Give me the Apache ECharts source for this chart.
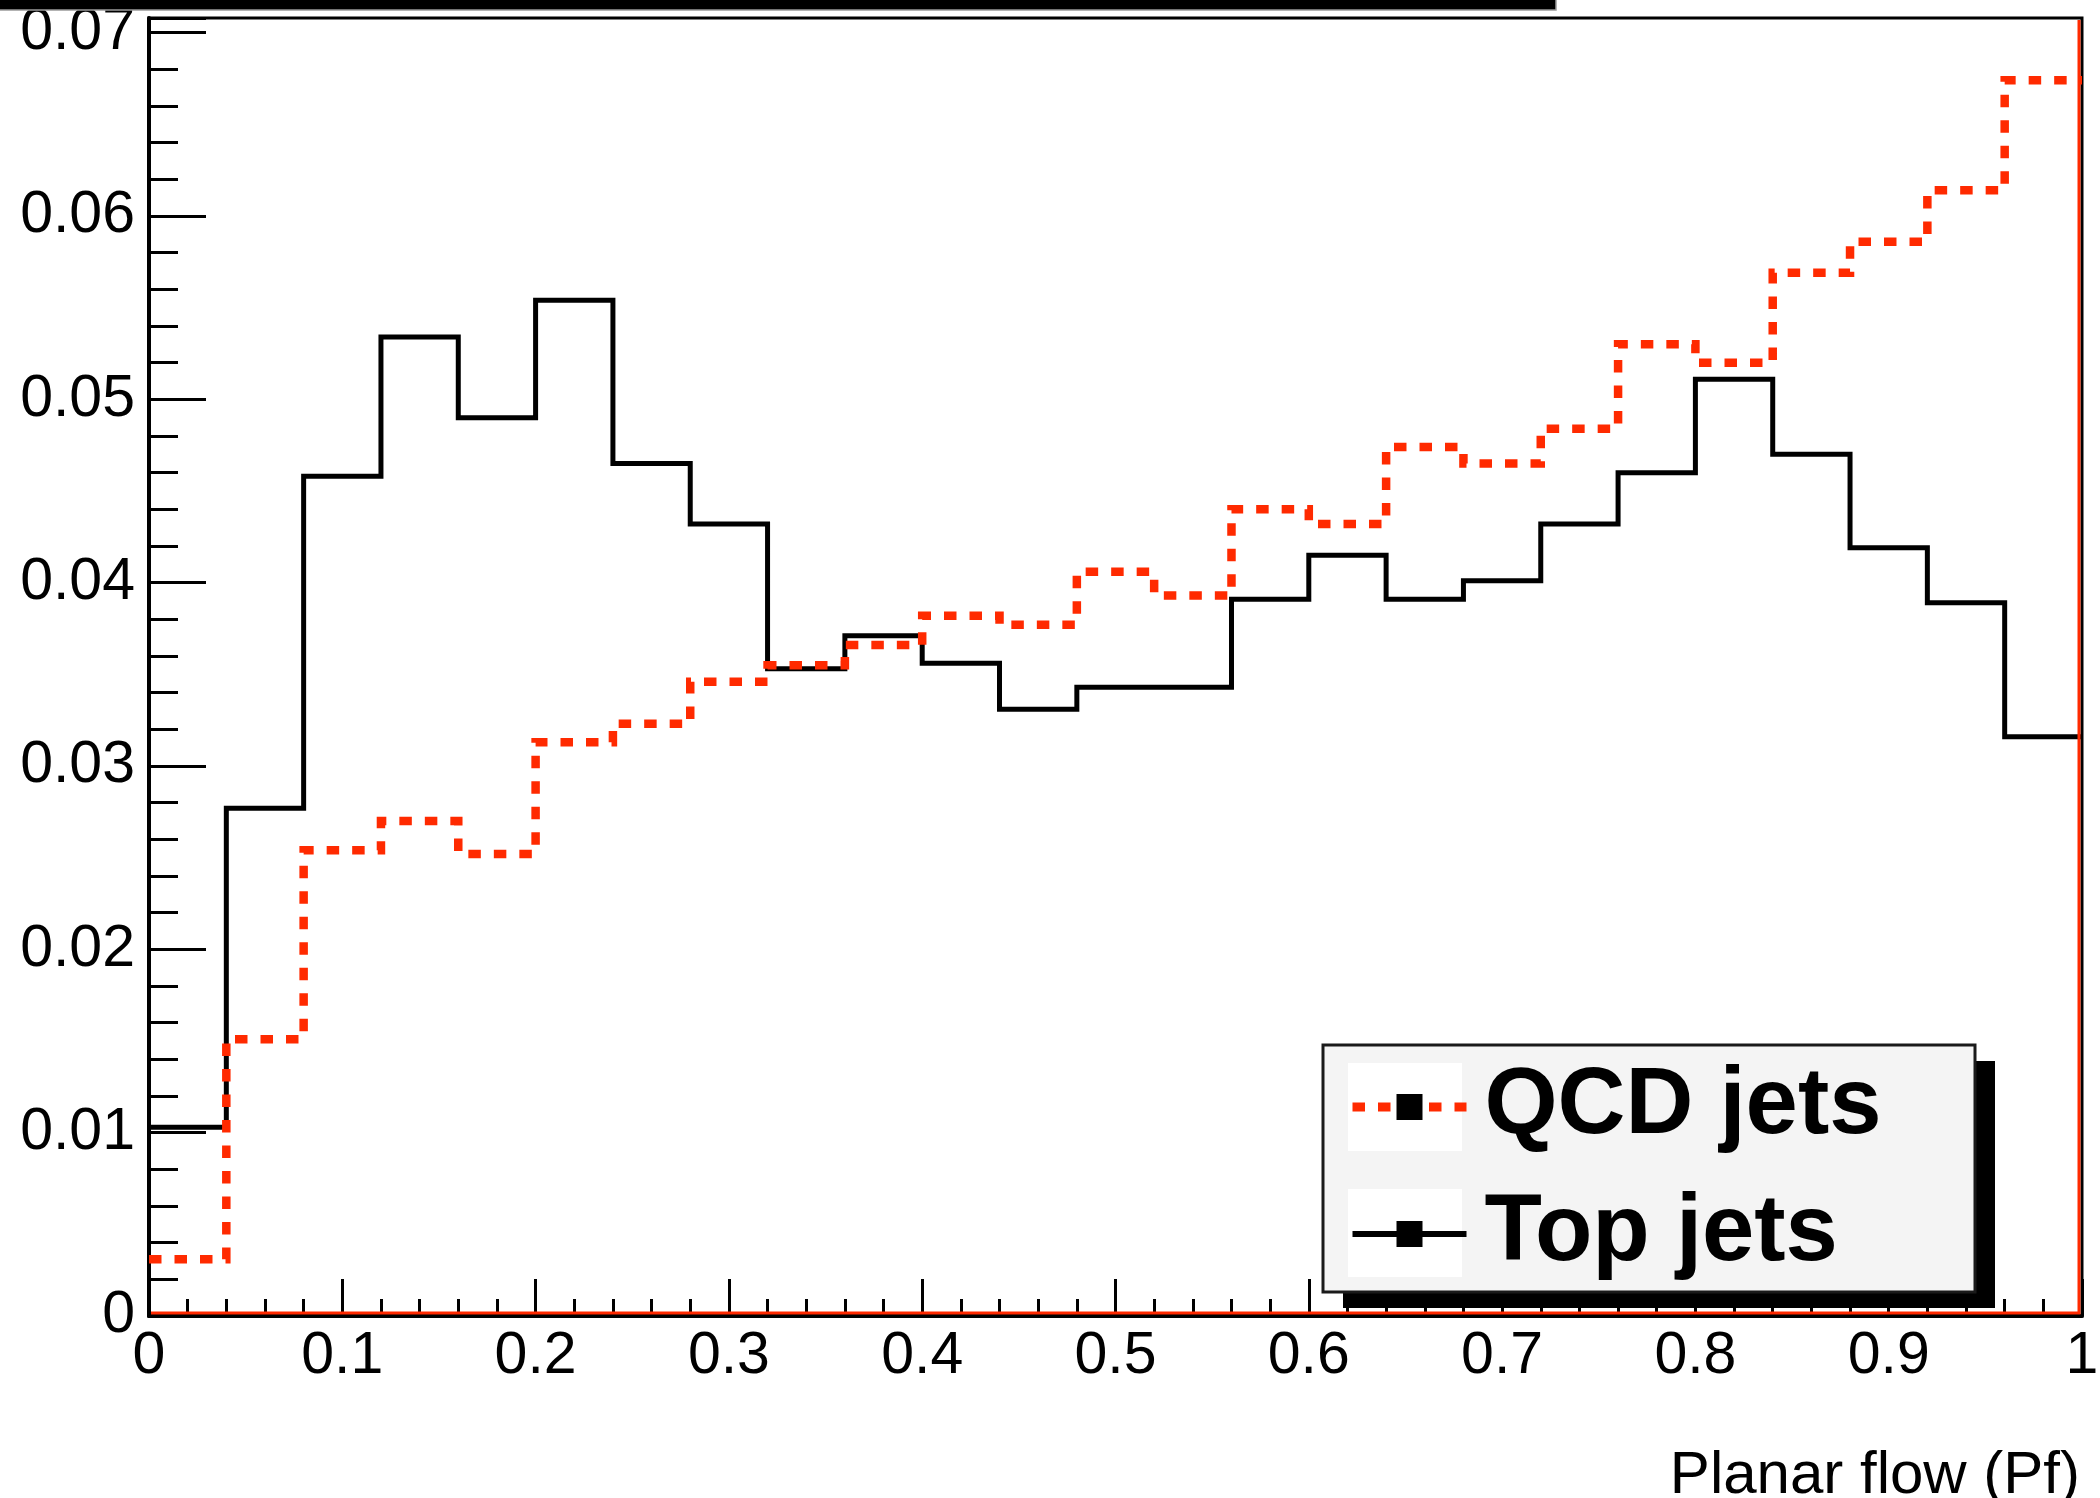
<!DOCTYPE html>
<html>
<head>
<meta charset="utf-8">
<title>Planar flow</title>
<script src="https://cdn.jsdelivr.net/npm/echarts@6/dist/echarts.min.js"></script>
<style>
  html, body { margin: 0; padding: 0; background: #ffffff; }
  #chart { width: 2100px; height: 1498px; }
</style>
</head>
<body>
<div id="chart"></div>
<script>
// Histogram bin edges on the planar-flow axis (25 bins)
const binEdges = [0, 0.04, 0.08, 0.12, 0.16, 0.2, 0.24, 0.28, 0.32, 0.36, 0.4,
                  0.44, 0.48, 0.52, 0.56, 0.6, 0.64, 0.68, 0.72, 0.76, 0.8,
                  0.84, 0.88, 0.92, 0.96, 1.0];

// Normalised bin contents
const qcdJets = [0.0031, 0.0151, 0.0254, 0.0270, 0.0252, 0.0313, 0.0323, 0.0346, 0.0355, 0.0366,
                 0.0382, 0.0377, 0.0406, 0.0393, 0.0440, 0.0432, 0.0474, 0.0465, 0.0484, 0.0530,
                 0.0520, 0.0569, 0.0586, 0.0614, 0.0674];
const topJets = [0.0103, 0.0277, 0.0458, 0.0534, 0.0490, 0.0554, 0.0465, 0.0432, 0.0353, 0.0371,
                 0.0356, 0.0331, 0.0343, 0.0343, 0.0391, 0.0415, 0.0391, 0.0401, 0.0432, 0.0460,
                 0.0511, 0.0470, 0.0419, 0.0389, 0.0316];

const seriesNames = ['QCD jets', 'Top jets'];
const xTitle = 'Planar flow (Pf)';
const yMax = 0.0708;

const FONT = '"Liberation Sans", Arial, Helvetica, sans-serif';
const QCD_RED = '#ff2a00';

// Turn bin contents into the outline of a step histogram
function stepOutline(values) {
  const pts = [];
  values.forEach(function (v, i) {
    pts.push([binEdges[i], v]);
    pts.push([binEdges[i + 1], v]);
  });
  return pts;
}

function yLabel(v) {
  const r = Math.round(v * 100);
  if (Math.abs(v * 100 - r) > 1e-6) return '';
  return r === 0 ? '0' : (r / 100).toFixed(2);
}
function xLabel(v) {
  if (Math.abs(v) < 1e-9) return '0';
  if (Math.abs(v - 1) < 1e-9) return '1';
  return v.toFixed(1);
}

const chart = echarts.init(document.getElementById('chart'), null, { renderer: 'canvas' });

const option = {
  animation: false,
  backgroundColor: '#ffffff',
  grid: {
    left: 149, right: 18, top: 18, bottom: 182,
    containLabel: false, outerBoundsMode: 'none',
    show: true, borderColor: '#000', borderWidth: 3, backgroundColor: 'transparent'
  },
  xAxis: {
    type: 'value', min: 0, max: 1, interval: 0.1,
    name: xTitle, nameLocation: 'end', nameGap: -2,
    nameTextStyle: {
      fontFamily: FONT, fontSize: 60, color: '#000',
      align: 'right', verticalAlign: 'top', padding: [130, 0, 0, 0]
    },
    axisLine: { show: true, onZero: false, lineStyle: { color: '#000', width: 4 } },
    axisTick: { show: true, inside: true, length: 37, lineStyle: { color: '#000', width: 3 } },
    minorTick: { show: true, splitNumber: 5, length: 17, lineStyle: { color: '#000', width: 3 } },
    splitLine: { show: false },
    minorSplitLine: { show: false },
    axisLabel: { fontFamily: FONT, fontSize: 59, color: '#000', margin: 11, formatter: xLabel }
  },
  yAxis: [
    {
      type: 'value', min: 0, max: yMax, interval: 0.01, position: 'left',
      axisLine: { show: true, onZero: false, lineStyle: { color: '#000', width: 4 } },
      axisTick: { show: true, inside: true, length: 57, lineStyle: { color: '#000', width: 3 } },
      splitLine: { show: false },
      axisLabel: {
        fontFamily: FONT, fontSize: 59, color: '#000', margin: 14,
        padding: [10, 0, 0, 0], formatter: yLabel
      }
    },
    {
      // finer ticks every 0.002
      type: 'value', min: 0, max: yMax, interval: 0.002, position: 'left', offset: 0,
      axisLine: { show: false },
      axisTick: { show: true, inside: true, length: 29, lineStyle: { color: '#000', width: 3 } },
      splitLine: { show: false },
      axisLabel: { show: false }
    }
  ],
  legend: {
    orient: 'vertical',
    left: 1323, top: 1045,
    padding: [3, 60, 3, 25],
    itemWidth: 114, itemHeight: 32.5, itemGap: 9,
    selectedMode: false,
    z: 20,
    data: [
      { name: seriesNames[0], lineStyle: { width: 9 } },
      { name: seriesNames[1], lineStyle: { width: 6 } }
    ],
    textStyle: {
      fontFamily: FONT, fontSize: 94, fontWeight: 'bold', color: '#000',
      lineHeight: 92, padding: [26, 0, 0, 13]
    }
  },
  series: [
    {
      name: seriesNames[1],
      type: 'line',
      data: stepOutline(topJets),
      symbol: 'rect', showSymbol: false,
      itemStyle: { color: '#000' },
      lineStyle: { color: '#000', width: 5, cap: 'butt', join: 'miter' },
      z: 3
    },
    {
      name: seriesNames[0],
      type: 'line',
      data: stepOutline(qcdJets),
      symbol: 'rect', showSymbol: false,
      itemStyle: { color: '#000' },
      lineStyle: { color: QCD_RED, width: 8.5, type: [12.5, 13], cap: 'butt', join: 'miter' },
      z: 4
    }
  ]
};

chart.setOption(option);

// Frame decorations: the red baseline / right edge, the legend panel and the top banner
const pBL = chart.convertToPixel({ xAxisIndex: 0, yAxisIndex: 0 }, [0, 0]);
const pTR = chart.convertToPixel({ xAxisIndex: 0, yAxisIndex: 0 }, [1, yMax]);

chart.setOption({
  graphic: [
    {
      type: 'polyline', z: 5, silent: true,
      shape: { points: [[pBL[0] + 2, pBL[1] - 3], [pTR[0] - 3, pBL[1] - 3], [pTR[0] - 3, pTR[1] + 2]] },
      style: { stroke: QCD_RED, lineWidth: 3, fill: null }
    },
    {
      // legend drop shadow
      type: 'rect', z: 9, silent: true,
      shape: { x: 1343, y: 1061, width: 652, height: 247 },
      style: { fill: '#000' }
    },
    {
      type: 'rect', z: 10, silent: true,
      shape: { x: 1323, y: 1045, width: 652, height: 247 },
      style: { fill: '#f4f4f4', stroke: '#1a1a1a', lineWidth: 3 }
    },
    {
      type: 'rect', z: 11, silent: true,
      shape: { x: 1348, y: 1063, width: 114, height: 88 },
      style: { fill: '#ffffff' }
    },
    {
      type: 'rect', z: 11, silent: true,
      shape: { x: 1348, y: 1189, width: 114, height: 88 },
      style: { fill: '#ffffff' }
    },
    {
      type: 'rect', z: 10, silent: true,
      shape: { x: -2, y: -3, width: 1558, height: 13 },
      style: { fill: '#000', stroke: '#9a9a9a', lineWidth: 1.5 }
    }
  ]
});
</script>
</body>
</html>
